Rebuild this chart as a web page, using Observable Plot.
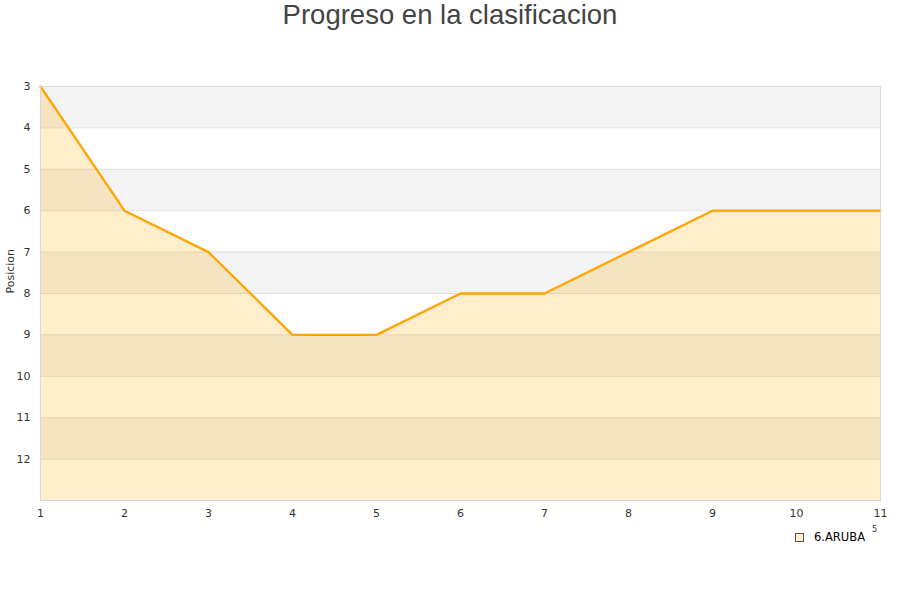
<!DOCTYPE html>
<html>
<head>
<meta charset="utf-8">
<script src="https://cdn.jsdelivr.net/npm/d3@7"></script>
<script src="https://cdn.jsdelivr.net/npm/@observablehq/plot@0.6"></script>
<style>
  body { margin: 0; background: #fff; width: 900px; height: 600px; position: relative; overflow: hidden; }
  #title { height: 50px; text-align: center; font-family: "Liberation Sans", Arial, sans-serif; font-size: 27.5px; color: #444; line-height: 30px; }
  #legend { position: absolute; left: 795px; top: 530px; font-family: "DejaVu Sans", sans-serif; font-size: 11.5px; color: #000; display: flex; align-items: center; }
  #legend .sw { width: 7px; height: 7px; background: #ffedcc; border: 1px solid #555; margin-right: 10px; }
  #extra { position: absolute; left: 872px; top: 525px; font-family: "DejaVu Sans", sans-serif; font-size: 8px; color: #333; }
</style>
</head>
<body>
<div id="title">Progreso en la clasificacion</div>
<div id="chart"></div>
<div id="legend"><div class="sw"></div><span>6.ARUBA</span></div>
<div id="extra">5</div>
<script>
const jornadas = [1, 2, 3, 4, 5, 6, 7, 8, 9, 10, 11];
const posiciones = [3, 6, 7, 9, 9, 8, 8, 7, 6, 6, 6];
const yTicks = [3, 4, 5, 6, 7, 8, 9, 10, 11, 12];
const bandStarts = [3, 5, 7, 9, 11];
const gridLines = [4, 5, 6, 7, 8, 9, 10, 11, 12];
const yMin = 3, yMax = 13;

const data = jornadas.map((j, i) => ({j, p: posiciones[i]}));

const chart = Plot.plot({
  width: 900,
  height: 500,
  marginTop: 36,
  marginBottom: 50,
  marginLeft: 40,
  marginRight: 20,
  style: { fontFamily: "DejaVu Sans, sans-serif", fontSize: "11px", color: "#333", background: "#fff" },
  x: { domain: [1, 11], ticks: jornadas, tickSize: 0, tickPadding: 9, label: null },
  y: { domain: [yMin, yMax], reverse: true, ticks: yTicks, tickSize: 0, tickPadding: 10, label: null },
  marks: [
    Plot.rect(bandStarts, { x1: 1, x2: 11, y1: d => d, y2: d => d + 1, fill: "#f3f3f3" }),
    Plot.ruleY(gridLines, { stroke: "#e0e0e0", strokeWidth: 1 }),
    Plot.areaY(data, { x: "j", y1: yMax, y2: "p", fill: "#ffa500", fillOpacity: 0.2 }),
    Plot.line(data, { x: "j", y: "p", stroke: "#ffa500", strokeWidth: 2.3 }),
    Plot.frame({ stroke: "#d8d8d8" }),
    Plot.axisX({ ticks: jornadas, tickSize: 0, tickPadding: 9, fill: "#333" }),
    Plot.axisY({ ticks: yTicks, tickSize: 0, tickPadding: 10, fill: "#333" }),
    Plot.text(["Posicion"], { frameAnchor: "left", dx: -30, rotate: -90, fill: "#333", fontSize: 11 })
  ]
});
document.getElementById("chart").appendChild(chart);
</script>
</body>
</html>
